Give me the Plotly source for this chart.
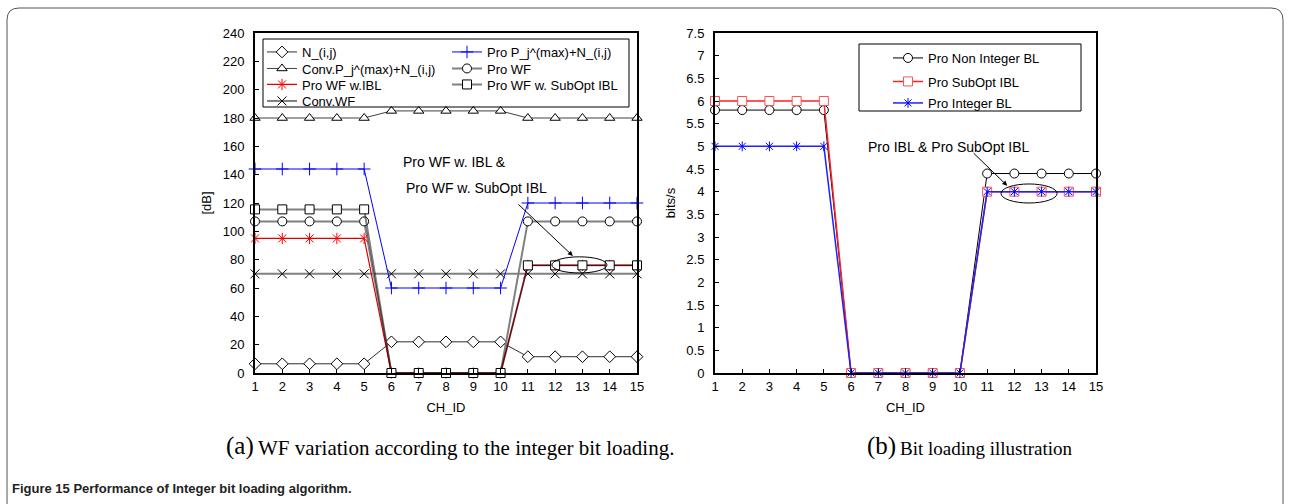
import plotly.graph_objects as go

# ---------------- data ----------------
CH = [1, 2, 3, 4, 5, 6, 7, 8, 9, 10, 11, 12, 13, 14, 15]

N_IJ = [6.5, 6.5, 6.5, 6.5, 6.5, 22, 22, 22, 22, 22, 11.5, 11.5, 11.5, 11.5, 11.5]
CONV_PMAX = [180, 180, 180, 180, 180, 185, 185, 185, 185, 185, 180, 180, 180, 180, 180]
PRO_WF_IBL = [95, 95, 95, 95, 95, 0, 0, 0, 0, 0, 76, 76, 76, 76, 76]
CONV_WF = [70, 70, 70, 70, 70, 70, 70, 70, 70, 70, 70, 70, 70, 70, 70]
PRO_PMAX = [144, 144, 144, 144, 144, 60, 60, 60, 60, 60, 120, 120, 120, 120, 120]
PRO_WF = [107, 107, 107, 107, 107, 0, 0, 0, 0, 0, 107, 107, 107, 107, 107]
PRO_WF_SUBOPT = [115.5, 115.5, 115.5, 115.5, 115.5, 0, 0, 0, 0, 0, 76, 76, 76, 76, 76]

BL_NONINT = [5.8, 5.8, 5.8, 5.8, 5.8, 0, 0, 0, 0, 0, 4.4, 4.4, 4.4, 4.4, 4.4]
BL_SUBOPT = [6, 6, 6, 6, 6, 0, 0, 0, 0, 0, 4, 4, 4, 4, 4]
BL_INT = [5, 5, 5, 5, 5, 0, 0, 0, 0, 0, 4, 4, 4, 4, 4]

Y_LEFT_TICKS = [0, 20, 40, 60, 80, 100, 120, 140, 160, 180, 200, 220, 240]
Y_RIGHT_TICKS = [0, 0.5, 1, 1.5, 2, 2.5, 3, 3.5, 4, 4.5, 5, 5.5, 6, 6.5, 7, 7.5]

W, H = 1290, 504
FONT = "Liberation Sans, Arial, sans-serif"
SERIF = "Liberation Serif, Times New Roman, serif"


def px(x):
    return x / W


def py(y):
    return 1 - y / H


fig = go.Figure()


def add(x, y, name, legend, axes, line_color, line_width, symbol, mcolor, mfill,
        msize=9, mlw=1, show=True):
    fig.add_trace(go.Scatter(
        x=x, y=y, name=name, mode="lines+markers",
        xaxis=axes[0], yaxis=axes[1], legend=legend, showlegend=show,
        line=dict(color=line_color, width=line_width),
        marker=dict(symbol=symbol, size=msize, color=mfill,
                    line=dict(color=mcolor, width=mlw)),
        cliponaxis=False,
    ))


def add_overlay(x, y, legend, axes, color, msize=8):
    fig.add_trace(go.Scatter(
        x=x, y=y, name=" ", mode="markers", xaxis=axes[0], yaxis=axes[1],
        legend=legend, showlegend=True,
        marker=dict(symbol="line-ns-open", size=msize, color=color,
                    line=dict(color=color, width=1)),
        cliponaxis=False,
    ))


L = ("x", "y")
R = ("x2", "y2")

# left chart
add(CH, CONV_WF, "Conv.WF", "legend4", L, "#808080", 2, "x-thin-open", "black", "black", 9)
add(CH, CONV_PMAX, "Conv.P_j^(max)+N_(i,j)", "legend2", L, "#404040", 1, "triangle-up", "black", "white", 9)
add(CH, N_IJ, "N_(i,j)", "legend1", L, "#303030", 1, "diamond", "black", "white", 9)
add(CH, PRO_PMAX, "Pro P_j^(max)+N_(i,j)", "legend5", L, "blue", 1, "cross-thin-open", "blue", "blue", 9)
add(CH, PRO_WF, "Pro WF", "legend6", L, "#808080", 2, "circle", "black", "white", 9)
add(CH, PRO_WF_IBL, "Pro WF w.IBL", "legend3", L, "#e00000", 1.2, "x-thin-open", "red", "red", 8)
add_overlay(CH, PRO_WF_IBL, "legend8", L, "red")
add(CH, PRO_WF_SUBOPT, "Pro WF w. SubOpt IBL", "legend7", L, "rgba(0,0,0,0.5)", 2, "square", "black", "white", 9)

# right chart
add(CH, BL_NONINT, "Pro Non Integer BL", "legend9", R, "black", 1, "circle", "black", "white", 9)
add(CH, BL_SUBOPT, "Pro SubOpt IBL", "legend10", R, "#ff2020", 1.5, "square", "#ff5050", "white", 9)
add(CH, BL_INT, "Pro Integer BL", "legend11", R, "#2020ff", 1.5, "x-thin-open", "blue", "blue", 7)
add_overlay(CH, BL_INT, "legend12", R, "blue", 7)

legend_font = dict(family=FONT, size=13, color="black")


def leg(xpix, ypix):
    return dict(x=px(xpix), y=py(ypix), xanchor="left", yanchor="middle",
                bgcolor="rgba(0,0,0,0)", borderwidth=0, font=legend_font,
                itemwidth=30)


axis_common = dict(showline=True, mirror=True, linewidth=2, linecolor="black",
                   ticks="inside", ticklen=4, tickwidth=1, tickcolor="black",
                   showgrid=False, zeroline=False, automargin=False,
                   tickfont=dict(family=FONT, size=13, color="black"))

fig.update_layout(
    width=W, height=H,
    margin=dict(l=0, r=0, t=0, b=0, autoexpand=False),
    paper_bgcolor="white", plot_bgcolor="white",
    font=dict(family=FONT, size=13, color="black"),
    xaxis=dict(domain=[px(255), px(637)], range=[1, 15], tickvals=CH, anchor="y",
               title=dict(text="CH_ID", standoff=10, font=dict(size=13)), **axis_common),
    yaxis=dict(domain=[py(373), py(33)], range=[0, 240], tickvals=Y_LEFT_TICKS, anchor="x",
               ticklabelstandoff=6,
               title=dict(text="[dB]", standoff=8, font=dict(size=13)), **axis_common),
    xaxis2=dict(domain=[px(715), px(1096)], range=[1, 15], tickvals=CH, anchor="y2",
                title=dict(text="CH_ID", standoff=10, font=dict(size=13)), **axis_common),
    yaxis2=dict(domain=[py(373), py(33)], range=[0, 7.5], tickvals=Y_RIGHT_TICKS, anchor="x2",
                ticklabelstandoff=6,
                title=dict(text="bits/s", standoff=8, font=dict(size=13)), **axis_common),
    legend1=leg(262, 52),
    legend2=leg(262, 68.5),
    legend3=leg(262, 84.5),
    legend4=leg(262, 101),
    legend5=leg(447, 52),
    legend6=leg(447, 68.5),
    legend7=leg(447, 84.5),
    legend8=leg(262, 84.5),
    legend9=leg(888, 58),
    legend10=leg(888, 81.5),
    legend11=leg(888, 103),
    legend12=leg(888, 103),
    showlegend=True,
)

shapes = [
    # legend boxes
    dict(type="rect", xref="paper", yref="paper", x0=px(263), x1=px(629), y0=py(107), y1=py(39),
         line=dict(color="black", width=1)),
    dict(type="rect", xref="paper", yref="paper", x0=px(859), x1=px(1081), y0=py(111), y1=py(44),
         line=dict(color="black", width=1)),
    # ellipses
    dict(type="circle", xref="x", yref="y", x0=11.88, x1=13.9, y0=70.6, y1=82,
         line=dict(color="black", width=1)),
    dict(type="circle", xref="x2", yref="y2", x0=11.51, x1=13.57, y0=3.75, y1=4.17,
         line=dict(color="black", width=1)),
    # outer page frame
    dict(type="path", xref="paper", yref="paper",
         path=(f"M {px(7)},{py(530)} L {px(7)},{py(20)} Q {px(7)},{py(8)} {px(19)},{py(8)} "
               f"L {px(1271)},{py(8)} Q {px(1283)},{py(8)} {px(1283)},{py(20)} L {px(1283)},{py(530)}"),
         line=dict(color="#555555", width=1)),
]

annotations = [
    dict(x=6.35, y=148.9, xref="x", yref="y", text="Pro WF w. IBL &", showarrow=False,
         xanchor="left", yanchor="middle", font=dict(family=FONT, size=14)),
    dict(x=6.46, y=130.6, xref="x", yref="y", text="Pro WF w. SubOpt IBL", showarrow=False,
         xanchor="left", yanchor="middle", font=dict(family=FONT, size=14)),
    dict(x=12.65, y=82.6, xref="x", yref="y", ax=10.6, ay=120, axref="x", ayref="y",
         text="", showarrow=True, arrowhead=2, arrowsize=1, arrowwidth=1, arrowcolor="black"),
    dict(x=6.55, y=4.99, xref="x2", yref="y2", text="Pro IBL & Pro SubOpt IBL", showarrow=False,
         xanchor="left", yanchor="middle", font=dict(family=FONT, size=14)),
    dict(x=11.74, y=4.13, xref="x2", yref="y2", ax=10.45, ay=4.88, axref="x2", ayref="y2",
         text="", showarrow=True, arrowhead=2, arrowsize=1, arrowwidth=1, arrowcolor="black"),
    # captions
    dict(x=px(256), y=py(446), xref="paper", yref="paper", text="(a)", showarrow=False,
         xanchor="right", yanchor="middle", font=dict(family=SERIF, size=25)),
    dict(x=px(256), y=py(448), xref="paper", yref="paper",
         text="WF variation according to the integer bit loading.", showarrow=False,
         xanchor="left", yanchor="middle", font=dict(family=SERIF, size=21)),
    dict(x=px(898), y=py(446), xref="paper", yref="paper", text="(b)", showarrow=False,
         xanchor="right", yanchor="middle", font=dict(family=SERIF, size=25)),
    dict(x=px(898), y=py(448), xref="paper", yref="paper",
         text="Bit loading illustration", showarrow=False,
         xanchor="left", yanchor="middle", font=dict(family=SERIF, size=19)),
    dict(x=px(10), y=py(488), xref="paper", yref="paper",
         text="<b>Figure 15 Performance of Integer bit loading algorithm.</b>", showarrow=False,
         xanchor="left", yanchor="middle",
         font=dict(family=FONT, size=13, color="#222222")),
]

fig.update_layout(shapes=shapes, annotations=annotations)

fig.write_html("out.html")
